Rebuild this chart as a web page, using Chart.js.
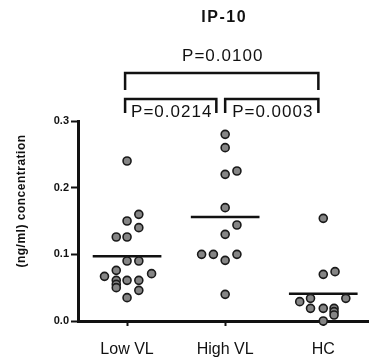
<!DOCTYPE html>
<html>
<head>
<meta charset="utf-8">
<script src="https://cdn.jsdelivr.net/npm/chart.js@4"></script>
<style>
  html, body { margin: 0; padding: 0; background: #fff; }
  #wrap { width: 374px; height: 362px; }
</style>
</head>
<body>
<div id="wrap"><canvas id="ip10Chart"></canvas></div>
<script>
// grupos e valores
const categories = ['Low VL', 'High VL', 'HC'];
const yTicks = [0, 0.1, 0.2, 0.3];

const lowVL = [0.240, 0.160, 0.150, 0.140, 0.126, 0.126, 0.090, 0.090, 0.076, 0.067, 0.071, 0.061, 0.055, 0.050, 0.061, 0.061, 0.046, 0.035];
const lowVLJitter = [0, 0.12, 0, 0.12, -0.11, 0, 0, 0.12, -0.11, -0.23, 0.25, -0.11, -0.11, -0.11, 0, 0.12, 0.12, 0];

const highVL = [0.280, 0.260, 0.220, 0.225, 0.170, 0.144, 0.130, 0.100, 0.100, 0.100, 0.091, 0.040];
const highVLJitter = [0, 0, 0, 0.12, 0, 0.12, 0, -0.24, -0.12, 0.12, 0, 0];

const hc = [0.154, 0.070, 0.074, 0.029, 0.034, 0.034, 0.019, 0.019, 0.019, 0.014, 0.009, 0.000];
const hcJitter = [0, 0, 0.12, -0.24, -0.13, 0.23, -0.13, 0, 0.11, 0.11, 0.11, 0];

const means = [0.097, 0.156, 0.041];

// comparações (Low x High, High x HC, Low x HC)
const pLabels = ['P=0.0214', 'P=0.0003', 'P=0.0100'];

const FONT = "'Liberation Sans', Arial, sans-serif";

function toPoints(vals, jitter, idx) {
    return vals.map((v, i) => ({ x: idx + jitter[i], y: v }));
}

const dotStyle = {
    type: 'scatter',
    pointRadius: 4,
    pointBackgroundColor: '#858585',
    pointBorderColor: '#1a1a1a',
    pointBorderWidth: 1.6,
    clip: false
};

const datasets = [
    Object.assign({ label: categories[0], data: toPoints(lowVL, lowVLJitter, 0) }, dotStyle),
    Object.assign({ label: categories[1], data: toPoints(highVL, highVLJitter, 1) }, dotStyle),
    Object.assign({ label: categories[2], data: toPoints(hc, hcJitter, 2) }, dotStyle)
];

// linhas de média
means.forEach((m, i) => {
    datasets.push({
        type: 'line',
        label: 'mean ' + categories[i],
        data: [{ x: i - 0.35, y: m }, { x: i + 0.35, y: m }],
        borderColor: '#111',
        borderWidth: 2.5,
        pointRadius: 0,
        fill: false
    });
});

// título, rótulo do eixo Y e colchetes com os valores de P
const extrasPlugin = {
    id: 'extras',
    afterDraw(chart) {
        const ctx = chart.ctx;
        const area = chart.chartArea;
        const xs = chart.scales.x;
        ctx.save();
        ctx.fillStyle = '#111';
        ctx.strokeStyle = '#111';
        ctx.textAlign = 'center';
        ctx.textBaseline = 'middle';

        // título
        ctx.font = 'bold 16px ' + FONT;
        ctx.letterSpacing = '1.5px';
        ctx.fillText('IP-10', (area.left + area.right) / 2 + 1, 18);

        // colchetes
        const brackets = [
            { a: -0.02, b: 0.91, top: 99, leg: 14, text: pLabels[0], ty: 112 },
            { a: 1.0, b: 1.95, top: 99, leg: 14, text: pLabels[1], ty: 112 },
            { a: -0.02, b: 1.95, top: 73, leg: 17, text: pLabels[2], ty: 56 }
        ];
        ctx.lineWidth = 2.5;
        ctx.font = '17px ' + FONT;
        ctx.letterSpacing = '1px';
        brackets.forEach(br => {
            const x1 = xs.getPixelForValue(br.a);
            const x2 = xs.getPixelForValue(br.b);
            ctx.beginPath();
            ctx.moveTo(x1, br.top + br.leg);
            ctx.lineTo(x1, br.top);
            ctx.lineTo(x2, br.top);
            ctx.lineTo(x2, br.top + br.leg);
            ctx.stroke();
            ctx.fillText(br.text, (x1 + x2) / 2 + 1, br.ty);
        });

        // rótulo do eixo Y
        ctx.letterSpacing = '0.5px';
        ctx.font = 'bold 12px ' + FONT;
        ctx.translate(22, 201);
        ctx.rotate(-Math.PI / 2);
        ctx.fillText('(ng/ml) concentration', 0, 0);
        ctx.restore();
    }
};

new Chart(document.getElementById('ip10Chart'), {
    data: { datasets: datasets },
    options: {
        responsive: true,
        maintainAspectRatio: false,
        animation: false,
        layout: { padding: { top: 121, right: 0, left: 0, bottom: 0 } },
        plugins: {
            legend: { display: false },
            tooltip: { enabled: false }
        },
        scales: {
            x: {
                type: 'linear',
                min: -0.5,
                max: 2.46,
                afterBuildTicks: s => { s.ticks = categories.map((c, i) => ({ value: i })); },
                afterFit: s => { s.height = 41; },
                ticks: {
                    callback: v => categories[v],
                    color: '#111',
                    padding: 14,
                    font: { family: FONT, size: 16 }
                },
                grid: {
                    drawOnChartArea: false,
                    drawTicks: true,
                    tickLength: 5,
                    tickWidth: 2,
                    tickColor: '#111'
                },
                border: { color: '#111', width: 3 }
            },
            y: {
                min: 0,
                max: 0.3,
                afterBuildTicks: s => { s.ticks = yTicks.map(v => ({ value: v })); },
                afterFit: s => { s.width = 78; },
                ticks: {
                    callback: v => v.toFixed(1),
                    color: '#111',
                    padding: 2,
                    font: { family: FONT, size: 11, weight: 'bold' }
                },
                grid: {
                    drawOnChartArea: false,
                    drawTicks: true,
                    tickLength: 7,
                    tickWidth: 2,
                    tickColor: '#111'
                },
                border: { color: '#111', width: 3 }
            }
        }
    },
    plugins: [extrasPlugin]
});
</script>
</body>
</html>
